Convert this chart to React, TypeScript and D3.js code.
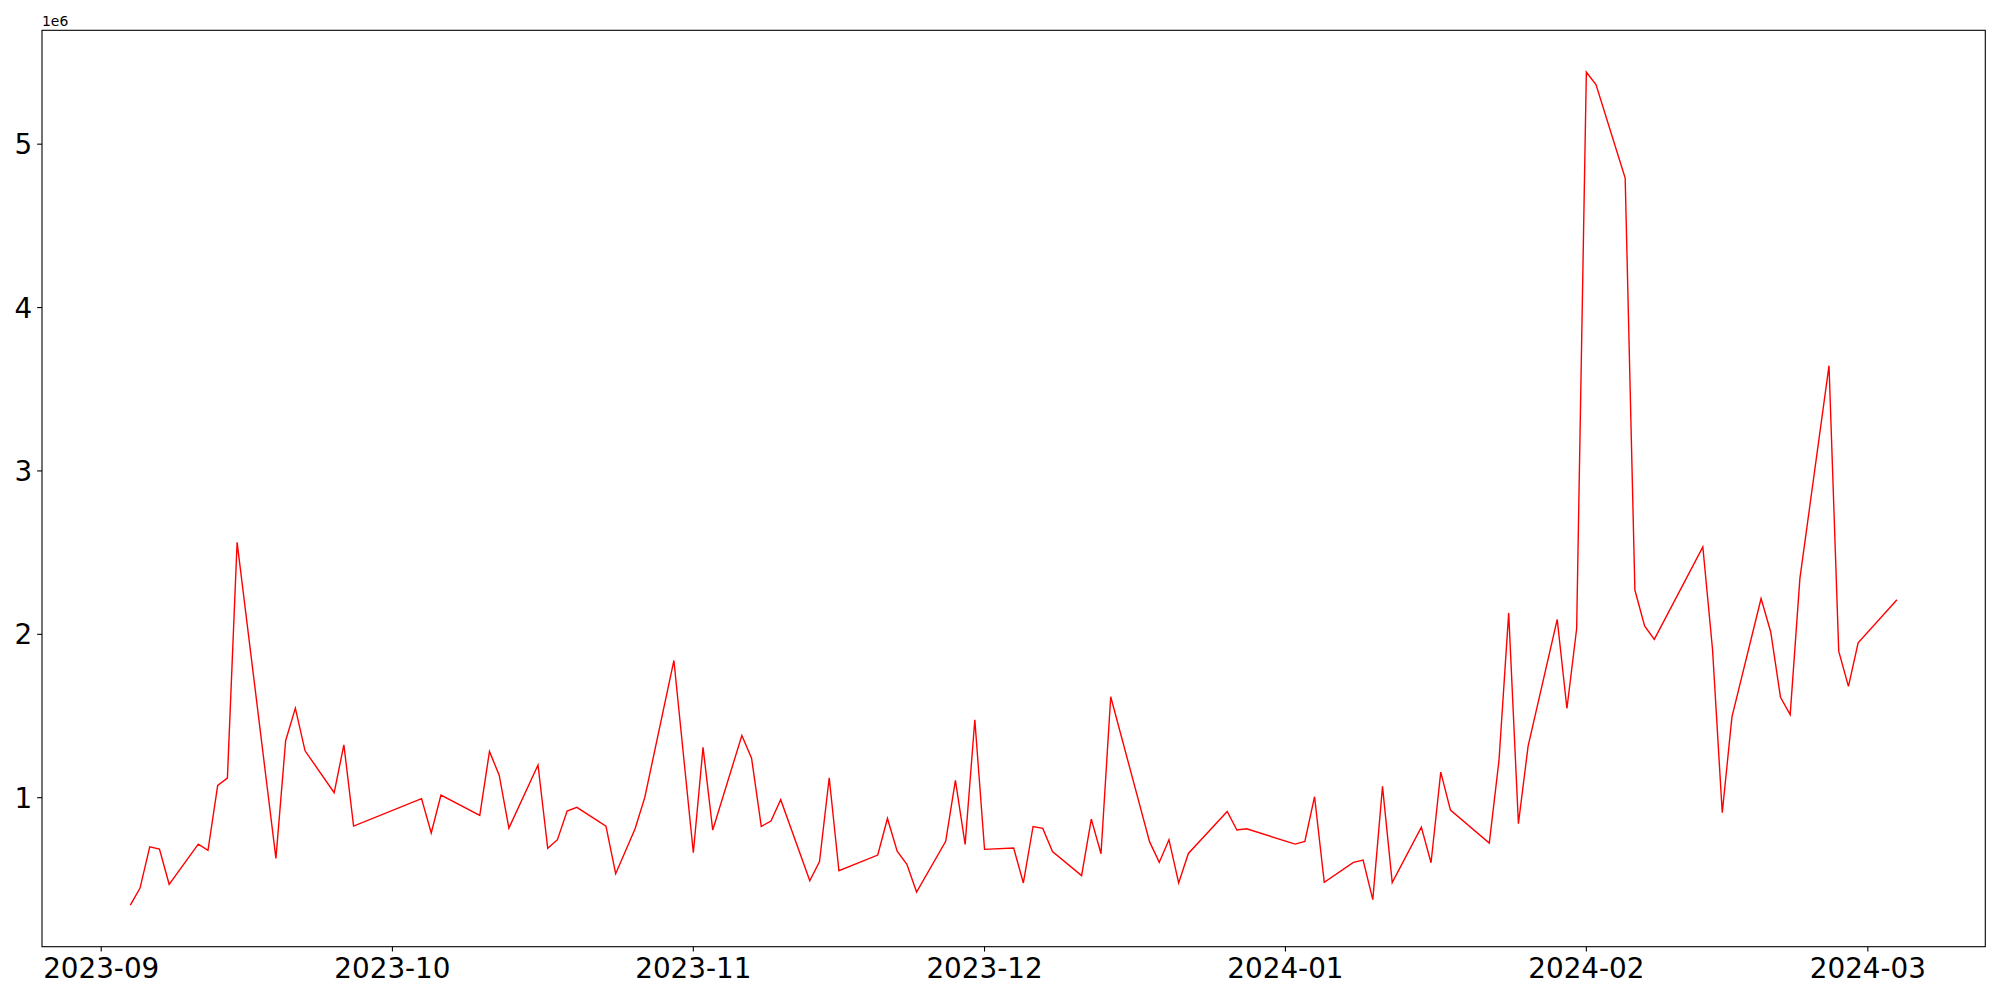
import React from "react";
import * as d3 from "d3";

const dates: string[] = [
  "2023-09-04","2023-09-05","2023-09-06","2023-09-07","2023-09-08",
  "2023-09-11","2023-09-12","2023-09-13","2023-09-14","2023-09-15",
  "2023-09-19","2023-09-20","2023-09-21","2023-09-22",
  "2023-09-25","2023-09-26","2023-09-27",
  "2023-10-04","2023-10-05","2023-10-06",
  "2023-10-10","2023-10-11","2023-10-12","2023-10-13",
  "2023-10-16","2023-10-17","2023-10-18","2023-10-19","2023-10-20",
  "2023-10-23","2023-10-24","2023-10-26","2023-10-27",
  "2023-10-30","2023-11-01","2023-11-02","2023-11-03",
  "2023-11-06","2023-11-07","2023-11-08","2023-11-09","2023-11-10",
  "2023-11-13","2023-11-14","2023-11-15","2023-11-16",
  "2023-11-20","2023-11-21","2023-11-22","2023-11-23","2023-11-24",
  "2023-11-27","2023-11-28","2023-11-29","2023-11-30","2023-12-01",
  "2023-12-04","2023-12-05","2023-12-06","2023-12-07","2023-12-08",
  "2023-12-11","2023-12-12","2023-12-13","2023-12-14",
  "2023-12-18","2023-12-19","2023-12-20","2023-12-21","2023-12-22",
  "2023-12-26","2023-12-27","2023-12-28",
  "2024-01-02","2024-01-03","2024-01-04","2024-01-05",
  "2024-01-08","2024-01-09","2024-01-10","2024-01-11","2024-01-12",
  "2024-01-15","2024-01-16","2024-01-17","2024-01-18",
  "2024-01-22","2024-01-23","2024-01-24","2024-01-25","2024-01-26",
  "2024-01-29","2024-01-30","2024-01-31","2024-02-01","2024-02-02",
  "2024-02-05","2024-02-06","2024-02-07","2024-02-08",
  "2024-02-13","2024-02-14","2024-02-15","2024-02-16",
  "2024-02-19","2024-02-20","2024-02-21","2024-02-22","2024-02-23",
  "2024-02-26","2024-02-27","2024-02-28","2024-02-29",
  "2024-03-04",
];

const values: number[] = [
  343000, 447000, 700000, 686000, 470000,
  716000, 678000, 1075000, 1120000, 2563000,
  629000, 1349000, 1548000, 1287000,
  1031000, 1324000, 826000,
  994000, 784000, 1016000,
  892000, 1283000, 1138000, 814000,
  1200000, 690000, 743000, 918000, 941000,
  826000, 535000, 810000, 1002000,
  1840000, 663000, 1308000, 802000,
  1381000, 1242000, 824000, 857000, 988000,
  492000, 609000, 1122000, 553000,
  649000, 873000, 672000, 592000, 423000,
  733000, 1106000, 714000, 1477000, 684000,
  692000, 478000, 824000, 812000, 670000,
  523000, 869000, 657000, 1618000,
  731000, 604000, 743000, 478000, 659000,
  916000, 802000, 810000,
  716000, 733000, 1006000, 482000,
  604000, 618000, 376000, 1069000, 480000,
  820000, 602000, 1157000, 924000,
  722000, 1228000, 2131000, 841000, 1316000,
  2091000, 1546000, 2034000, 5442000, 5363000,
  4793000, 2271000, 2051000, 1969000,
  2535000, 1907000, 908000, 1495000,
  2219000, 2013000, 1615000, 1509000, 2342000,
  3644000, 1897000, 1681000, 1948000,
  2212000,
];

const xTickDates: string[] = [
  "2023-09-01","2023-10-01","2023-11-01","2023-12-01",
  "2024-01-01","2024-02-01","2024-03-01",
];
const yTickValues: number[] = [1000000, 2000000, 3000000, 4000000, 5000000];
const offsetLabel = "1e6";

const W = 2000;
const H = 1000;
const left = 42;
const right = 1985.3;
const top = 30.3;
const bottom = 946.7;
const FONT = "'DejaVu Sans', sans-serif";
const tickLen = 4.86;

export default function App() {
  const parse = d3.utcParse("%Y-%m-%d");
  const data = dates.map((d, i) => ({ date: parse(d) as Date, value: values[i] }));

  const [x0, x1] = d3.extent(data, (d) => d.date.getTime()) as [number, number];
  const xPad = (x1 - x0) * 0.05;
  const x = d3.scaleUtc()
    .domain([new Date(x0 - xPad), new Date(x1 + xPad)])
    .range([left, right]);

  const [y0, y1] = d3.extent(data, (d) => d.value) as [number, number];
  const yPad = (y1 - y0) * 0.05;
  const y = d3.scaleLinear().domain([y0 - yPad, y1 + yPad]).range([bottom, top]);

  const line = d3.line<{ date: Date; value: number }>()
    .x((d) => x(d.date))
    .y((d) => y(d.value));

  const fmt = d3.utcFormat("%Y-%m");

  return (
    <svg
      width={W}
      height={H}
      style={{ position: "absolute", left: 0, top: 0, background: "#fff" }}
    >
      <rect x={0} y={0} width={W} height={H} fill="#fff" />
      <path
        d={line(data) || ""}
        fill="none"
        stroke="#ff0000"
        strokeWidth={1.4}
        strokeLinejoin="miter"
      />
      {/* spines */}
      <rect
        x={left}
        y={top}
        width={right - left}
        height={bottom - top}
        fill="none"
        stroke="#000"
        strokeWidth={1.1}
      />
      {/* x ticks */}
      {xTickDates.map((s) => {
        const d = parse(s) as Date;
        const px = x(d);
        return (
          <g key={s}>
            <line x1={px} x2={px} y1={bottom} y2={bottom + tickLen} stroke="#000" strokeWidth={1.1} />
            <text
              x={px}
              y={bottom + tickLen + 4.86}
              dy="0.76em"
              textAnchor="middle"
              fontFamily={FONT}
              fontSize={27.8}
              fill="#000"
            >
              {fmt(d)}
            </text>
          </g>
        );
      })}
      {/* y ticks */}
      {yTickValues.map((v) => {
        const py = y(v);
        return (
          <g key={v}>
            <line x1={left - tickLen} x2={left} y1={py} y2={py} stroke="#000" strokeWidth={1.1} />
            <text
              x={left - tickLen - 4.86}
              y={py}
              dy="0.36em"
              textAnchor="end"
              fontFamily={FONT}
              fontSize={27.8}
              fill="#000"
            >
              {String(v / 1e6)}
            </text>
          </g>
        );
      })}
      <text x={left} y={25.5} fontFamily={FONT} fontSize={13.9} fill="#000">
        {offsetLabel}
      </text>
    </svg>
  );
}
